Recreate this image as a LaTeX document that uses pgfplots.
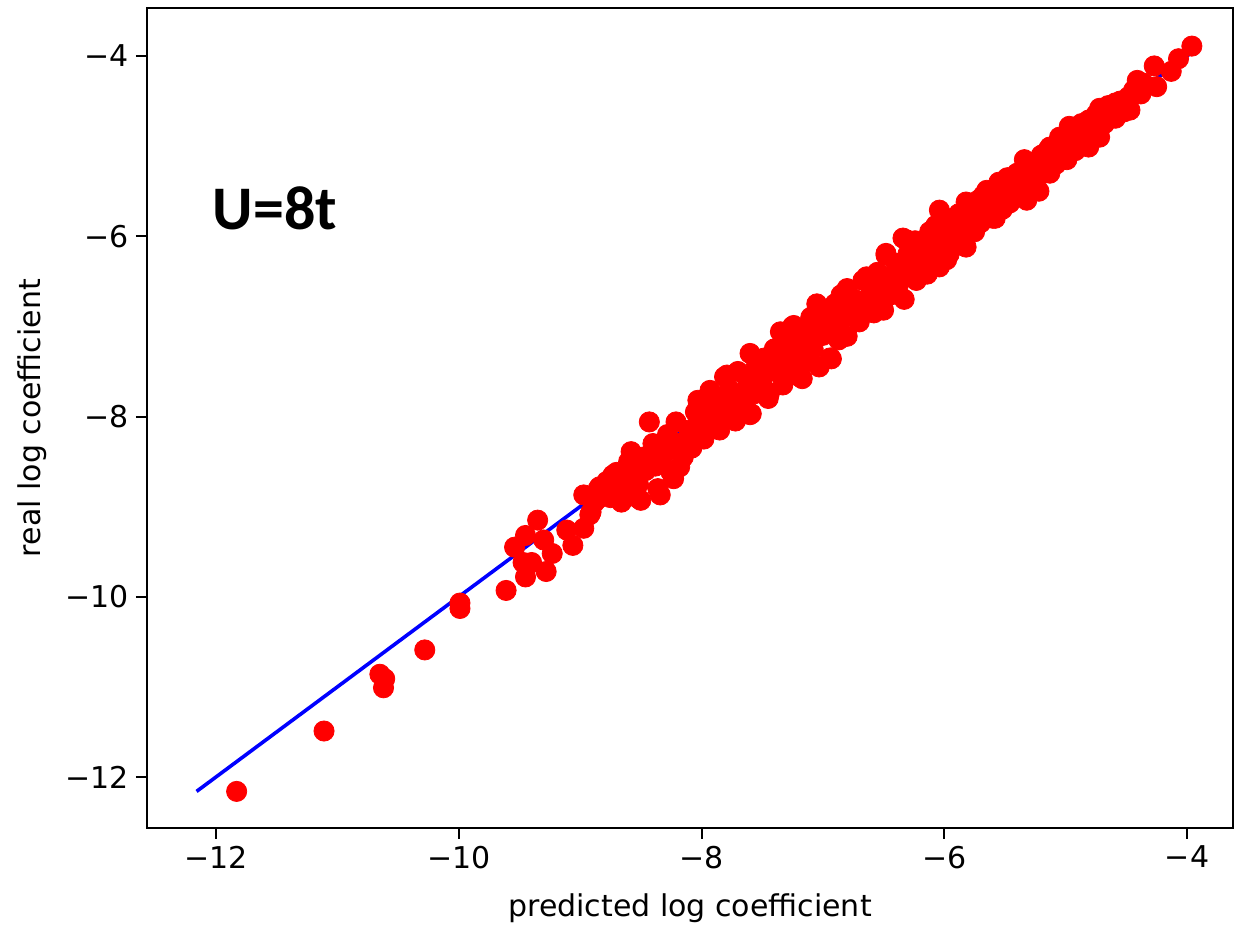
\documentclass[border=0pt]{standalone}
\usepackage{pgfplots}
\pgfplotsset{compat=1.18}
\usepackage{fontspec}
\setmainfont{DejaVu Sans}
\newfontfamily\tagfont{Carlito}

\begin{document}
\begin{tikzpicture}
\begin{axis}[
  name=ax,
  scale only axis,
  width=543pt, height=410pt,
  xmin=-12.5685, xmax=-3.621,
  ymin=-12.566, ymax=-3.467,
  axis line style={line width=1pt},
  every tick/.style={line width=1pt, black},
  tick align=outside,
  major tick length=5.5pt,
  xtick={-12,-10,-8,-6,-4},
  xticklabels={−12,−10,−8,−6,−4},
  ytick={-12,-10,-8,-6,-4},
  yticklabels={−12,−10,−8,−6,−4},
  xtick pos=bottom, ytick pos=left,
  tick label style={font=\fontsize{15pt}{18pt}\selectfont},
  label style={font=\fontsize{15pt}{18pt}\selectfont},
  xlabel={predicted log coefficient},
  ylabel={real log coefficient},
  xlabel style={at={(axis description cs:0.5,0)}, anchor=base, yshift=-44.5pt},
  ylabel style={at={(axis description cs:-0.1059,0.5)}, anchor=center},
  clip=false,
]
% identity reference line
\addplot[blue, line width=1.8pt, no marks] coordinates {(-12.16,-12.16) (-3.90,-3.90)};

% predicted vs. real coefficients
\addplot[red, only marks, mark=*, mark size=5.05pt, mark options={fill=red, draw=red}] coordinates {
(-11.83,-12.16) (-11.11,-11.49) (-10.65,-10.86) (-10.61,-10.91) (-10.62,-11.01)
(-10.28,-10.59) (-9.99,-10.07) (-9.99,-10.13) (-9.61,-9.93) (-9.45,-9.78)
(-9.28,-9.72) (-9.47,-9.62) (-9.40,-9.62) (-9.54,-9.45) (-9.45,-9.32)
(-9.35,-9.15) (-9.30,-9.37) (-9.23,-9.52) (-9.11,-9.26) (-9.06,-9.43)
(-8.97,-9.24) (-8.92,-9.09) (-8.97,-8.87) (-8.84,-8.78) (-8.73,-8.65)
(-8.65,-8.89) (-8.52,-8.91)
(-8.91,-9.06) (-8.88,-8.95) (-8.85,-8.80)
(-8.78,-8.72) (-8.75,-8.90) (-8.80,-8.85)
(-8.70,-8.62) (-8.68,-8.80) (-8.66,-8.95)
(-8.60,-8.50) (-8.58,-8.39) (-8.57,-8.70) (-8.55,-8.85)
(-8.50,-8.93) (-8.48,-8.45) (-8.46,-8.60) (-8.52,-8.75)
(-8.43,-8.06) (-8.40,-8.30) (-8.38,-8.55) (-8.36,-8.80) (-8.34,-8.87)
(-8.30,-8.40) (-8.28,-8.20) (-8.25,-8.62) (-8.23,-8.69)
(-8.21,-8.06) (-8.18,-8.56) (-8.17,-8.30) (-8.15,-8.45)
(-8.10,-8.15) (-8.08,-8.35) (-8.05,-7.95) (-8.03,-7.82)
(-8.00,-8.10) (-7.98,-8.25) (-7.95,-7.90) (-7.93,-7.71)
(-7.90,-8.05) (-7.87,-7.80) (-7.85,-8.15) (-7.81,-7.56)
(-7.80,-7.95) (-7.77,-7.70) (-7.75,-7.85) (-7.72,-8.05)
(-7.70,-7.50) (-7.68,-7.75) (-7.65,-7.90) (-7.62,-7.60)
(-7.60,-7.30) (-7.60,-7.98) (-7.59,-7.97) (-7.57,-7.75) (-7.55,-7.45)
(-7.50,-7.60) (-7.48,-7.35) (-7.45,-7.80) (-7.44,-7.74)
(-7.40,-7.25) (-7.38,-7.50) (-7.35,-7.06) (-7.33,-7.65)
(-7.30,-7.20) (-7.28,-7.45) (-7.25,-7.00) (-7.24,-6.99) (-7.22,-7.35)
(-7.19,-7.56) (-7.18,-7.15) (-7.15,-7.40) (-7.12,-7.05)
(-7.10,-6.90) (-7.08,-7.25) (-7.05,-6.75) (-7.03,-7.45)
(-7.00,-7.10) (-6.98,-6.85) (-6.94,-7.35) (-6.92,-7.00)
(-6.90,-6.75) (-6.87,-7.15) (-6.85,-6.65) (-6.82,-6.90)
(-6.80,-6.58) (-6.80,-7.11) (-6.77,-6.85) (-6.74,-6.70)
(-6.70,-6.95) (-6.67,-6.49) (-6.65,-6.75) (-6.64,-6.45)
(-6.60,-6.60) (-6.58,-6.85) (-6.55,-6.40) (-6.53,-6.76)
(-6.50,-6.82) (-6.48,-6.19) (-6.47,-6.50) (-6.44,-6.65)
(-6.40,-6.30) (-6.38,-6.55) (-6.34,-6.02) (-6.33,-6.70)
(-6.30,-6.20) (-6.27,-6.45) (-6.24,-6.05) (-6.23,-6.49)
(-6.20,-6.30) (-6.17,-6.10) (-6.14,-6.42) (-6.12,-5.95)
(-6.10,-6.20) (-6.07,-5.88) (-6.04,-5.71) (-6.04,-6.34) (-6.02,-6.05)
(-5.98,-5.90) (-5.96,-6.20) (-5.93,-5.80) (-5.90,-6.00)
(-5.88,-5.75) (-5.86,-6.10) (-5.82,-5.62) (-5.82,-6.12) (-5.80,-5.85)
(-5.77,-5.70) (-5.75,-5.95) (-5.72,-5.60) (-5.70,-5.85)
(-5.68,-5.55) (-5.65,-5.49) (-5.63,-5.75) (-5.60,-5.80)
(-5.58,-5.55) (-5.55,-5.40) (-5.52,-5.70) (-5.50,-5.50)
(-5.48,-5.35) (-5.46,-5.63) (-5.43,-5.45) (-5.40,-5.30)
(-5.38,-5.55) (-5.34,-5.15) (-5.32,-5.60) (-5.30,-5.35)
(-5.27,-5.41) (-5.25,-5.20) (-5.22,-5.50) (-5.20,-5.10)
(-5.18,-5.30) (-5.15,-5.05) (-5.13,-5.30) (-5.10,-5.15)
(-5.13,-5.01) (-5.08,-5.20) (-5.05,-4.90) (-5.02,-5.05)
(-4.99,-5.15) (-4.97,-4.78) (-4.95,-4.95) (-4.92,-5.05)
(-4.90,-4.85) (-4.87,-4.75) (-4.84,-4.98) (-4.81,-4.71) (-4.81,-5.01)
(-4.78,-4.85) (-4.75,-4.65) (-4.72,-4.58) (-4.72,-4.90)
(-4.68,-4.75) (-4.65,-4.55) (-4.62,-4.68) (-4.59,-4.52) (-4.59,-4.69)
(-4.55,-4.50) (-4.52,-4.62) (-4.48,-4.45) (-4.47,-4.60)
(-4.44,-4.38) (-4.41,-4.27) (-4.38,-4.42)
(-4.27,-4.11) (-4.25,-4.34) (-4.13,-4.17) (-4.07,-4.03) (-3.96,-3.89)
(-8.86,-8.92) (-8.76,-8.80) (-8.64,-8.72) (-8.54,-8.62) (-8.44,-8.48)
(-8.33,-8.50) (-8.22,-8.35) (-8.12,-8.25) (-8.02,-8.00) (-7.92,-7.95)
(-7.83,-7.85) (-7.73,-7.78) (-7.63,-7.70) (-7.53,-7.52) (-7.43,-7.45)
(-7.32,-7.38) (-7.21,-7.25) (-7.11,-7.15) (-7.01,-6.95) (-6.91,-6.90)
(-6.81,-6.80) (-6.71,-6.72) (-6.61,-6.68) (-6.51,-6.55) (-6.41,-6.42)
(-6.31,-6.32) (-6.21,-6.20) (-6.11,-6.08) (-6.01,-6.15) (-5.91,-5.90)
(-5.81,-5.75) (-5.71,-5.72) (-5.61,-5.65) (-5.51,-5.60) (-5.41,-5.42)
(-5.31,-5.25) (-5.21,-5.30) (-5.11,-5.12) (-5.01,-4.98) (-4.91,-4.92)
(-4.83,-4.82) (-4.70,-4.67) (-4.61,-4.60) (-4.51,-4.55) (-4.36,-4.30)
(-7.79,-7.54) (-7.17,-7.58) (-6.93,-7.36) (-6.51,-6.76) (-6.31,-6.04)
(-5.98,-6.26) (-5.85,-6.10) (-5.58,-5.80) (-6.48,-6.21) (-6.80,-6.60)
};

\node[anchor=base west, inner sep=0pt, font=\tagfont\bfseries\fontsize{31pt}{36pt}\selectfont]
  at (axis cs:-12.03,-5.93) {U=8t};
\end{axis}
\pgfresetboundingbox
\path[use as bounding box] ([shift={(-73.5pt,-48.5pt)}]ax.south west) rectangle ([shift={(1.5pt,4pt)}]ax.north east);
\end{tikzpicture}
\end{document}
